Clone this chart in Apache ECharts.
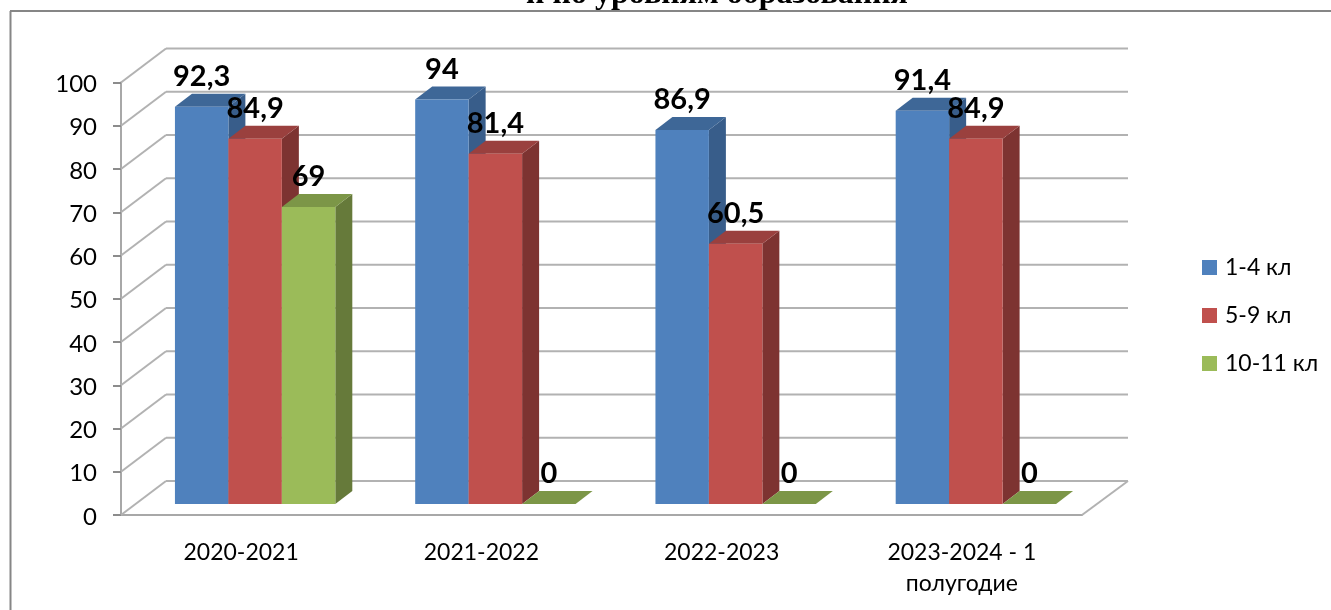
<!DOCTYPE html>
<html>
<head>
  <meta charset="utf-8">
  <title>Chart</title>
  <script src="https://cdn.jsdelivr.net/npm/echarts@6/dist/echarts.min.js"></script>
  <style>
    html, body { margin: 0; padding: 0; background: #fff; }
    #container { width: 1331px; height: 610px; filter: blur(0.5px); }
  </style>
</head>
<body>
  <div id="container"></div>
  <script>
    const categories = ['2020-2021', '2021-2022', '2022-2023', '2023-2024 - 1\nполугодие'];
    const seriesNames = ['1-4 кл', '5-9 кл', '10-11 кл'];
    const values14 = [92.3, 94, 86.9, 91.4];
    const values59 = [84.9, 81.4, 60.5, 84.9];
    const values1011 = [69, 0, 0, 0];
    const gridTicks = [0, 10, 20, 30, 40, 50, 60, 70, 80, 90, 100];

    const fontName = 'Lato, "Open Sans", sans-serif';
    const colors = [
      { front: '#4f81bd', top: '#3e6797', side: '#385d8a' },
      { front: '#c0504d', top: '#9a403e', side: '#7d3331' },
      { front: '#9bbb59', top: '#7c9647', side: '#667a3a' }
    ];
    // wall depth in pixels, bars sit in the middle of it
    const wallX = 45, wallY = 34;
    const barDX = 14, barDY = 11, sideX = 17, sideY = 13;

    function barSeries(slot, values) {
      const col = colors[slot];
      return {
        name: seriesNames[slot],
        type: 'custom',
        itemStyle: { color: col.front },
        data: values.map(function (v, i) { return [i, v]; }),
        renderItem: function (params, api) {
          const v = api.value(1);
          const base = api.coord([api.value(0), 0]);
          const top = api.coord([api.value(0), v]);
          const w = api.size([1, 0])[0] * 0.2225;
          const x0 = base[0] + barDX - 1.5 * w + slot * w;
          const x1 = x0 + w;
          const y0 = base[1] - barDY;
          const y1 = y0 - (base[1] - top[1]) * 0.995;
          const label = String(v).replace('.', ',');
          return {
            type: 'group',
            children: [
              { type: 'polygon', shape: { points: [[x1, y0], [x1 + sideX, y0 - sideY], [x1 + sideX, y1 - sideY], [x1, y1]] }, style: { fill: col.side } },
              { type: 'polygon', shape: { points: [[x0, y1], [x0 + sideX, y1 - sideY], [x1 + sideX, y1 - sideY], [x1, y1]] }, style: { fill: col.top } },
              { type: 'rect', shape: { x: x0, y: y1, width: w, height: y0 - y1 }, style: { fill: col.front } },
              { type: 'text', z2: 100, x: (x0 + x1) / 2, y: y1 - 30, style: { text: label, font: 'bold 29px ' + fontName, fill: '#000', align: 'center', verticalAlign: 'middle' } }
            ]
          };
        }
      };
    }

    // back wall, side wall and floor
    const wallSeries = {
      type: 'custom',
      silent: true,
      data: gridTicks.map(function (t) { return [0, t]; }),
      renderItem: function (params, api) {
        const t = api.value(1);
        const p = api.coord([0, t]);
        const left = p[0] - api.size([1, 0])[0] / 2;
        const right = left + api.size([1, 0])[0] * 4;
        const line = { stroke: '#b2b2b2', lineWidth: 2 };
        const children = [
          { type: 'line', shape: { x1: left, y1: p[1], x2: left + wallX, y2: p[1] - wallY }, style: line },
          { type: 'line', shape: { x1: left + wallX, y1: p[1] - wallY, x2: right + wallX + 1, y2: p[1] - wallY }, style: line }
        ];
        if (t === 0) {
          children.push({ type: 'line', shape: { x1: right, y1: p[1], x2: right + wallX + 1, y2: p[1] - wallY }, style: line });
        }
        return { type: 'group', children: children };
      }
    };

    const chart = echarts.init(document.getElementById('container'));
    chart.setOption({
      animation: false,
      backgroundColor: '#fff',
      grid: { left: 121, top: 82.5, width: 961, height: 432.5 },
      legend: {
        orient: 'vertical',
        left: 1202,
        top: 256,
        padding: 0,
        itemWidth: 15,
        itemHeight: 15,
        itemGap: 25,
        icon: 'rect',
        selectedMode: false,
        data: seriesNames,
        textStyle: { fontFamily: fontName, fontSize: 23, lineHeight: 23, color: '#000', padding: [0, 0, 0, 3] }
      },
      graphic: [
        { type: 'text', x: 717, y: -5, style: { text: 'и по уровням образования', font: 'bold 32px "Liberation Serif", serif', fill: '#000', align: 'center', verticalAlign: 'middle' } },
        { type: 'line', shape: { x1: 10.5, y1: 11, x2: 10.5, y2: 610 }, style: { stroke: '#868686', lineWidth: 2 } },
        { type: 'line', shape: { x1: 10, y1: 11, x2: 1331, y2: 11 }, style: { stroke: '#868686', lineWidth: 2 } }
      ],
      xAxis: {
        type: 'category',
        data: categories,
        axisLine: { lineStyle: { color: '#a8a8a8', width: 2 } },
        axisTick: { alignWithLabel: false, length: 8, lineStyle: { color: '#8c8c8c', width: 2 } },
        axisLabel: { fontFamily: fontName, fontSize: 23, color: '#000', margin: 22, lineHeight: 31 }
      },
      yAxis: {
        type: 'value',
        min: 0,
        max: 100,
        interval: 10,
        splitLine: { show: false },
        axisLine: { show: true, lineStyle: { color: '#a8a8a8', width: 2 } },
        axisTick: { show: true, length: 8, lineStyle: { color: '#8c8c8c', width: 2 } },
        axisLabel: {
          margin: 24,
          formatter: '{a|{value}}',
          rich: { a: { fontFamily: fontName, fontSize: 24, color: '#000', padding: [4, 0, 0, 0] } }
        }
      },
      series: [wallSeries, barSeries(0, values14), barSeries(1, values59), barSeries(2, values1011)]
    });
  </script>
</body>
</html>
